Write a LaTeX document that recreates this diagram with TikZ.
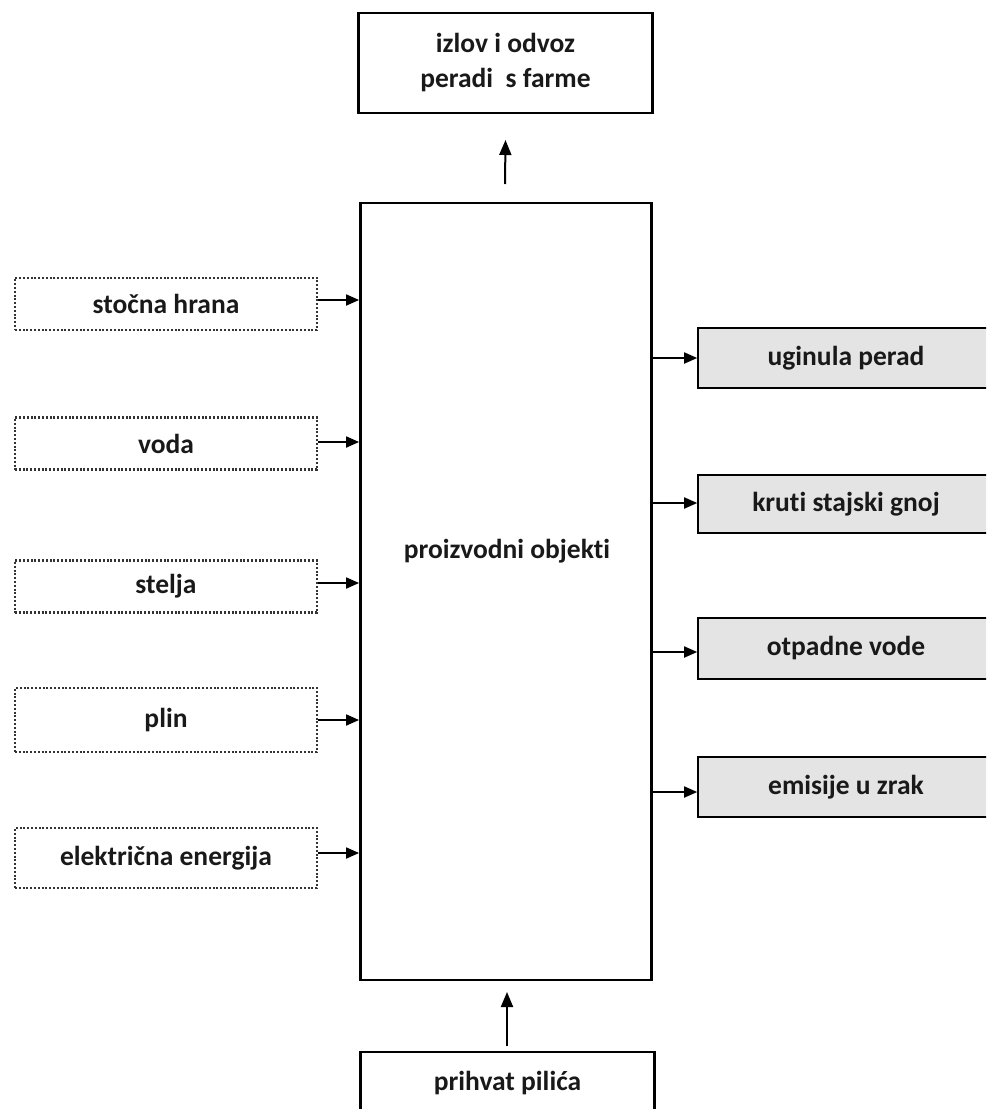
\documentclass[tikz,border=0pt]{standalone}
\usepackage{fontspec}
\setmainfont[Ligatures={NoCommon}]{Carlito}
\usetikzlibrary{arrows.meta}
\definecolor{boxgrey}{HTML}{E4E4E4}
\begin{document}
\begin{tikzpicture}[x=1pt,y=-1pt,
  txt/.style={font=\fontsize{27.5}{35}\selectfont\bfseries, text=black!90},
  solidbox/.style={draw, line width=2.8pt, inner sep=0pt, txt, align=center},
  inbox/.style={draw=black!80, line width=2.4pt, dash pattern=on 2pt off 1.8pt, inner sep=0pt,
     minimum width=302pt, minimum height=52pt, txt},
  outbox/.style={draw, line width=1.6pt, fill=boxgrey, inner sep=0pt,
     minimum width=296pt, minimum height=60pt, txt},
  arr/.style={line width=2pt, -{Triangle[length=15pt,width=12pt]}},
  arrsm/.style={line width=1.8pt, -{Triangle[length=13pt,width=11pt]}}]
\useasboundingbox (0,0) rectangle (986,1109);
\clip (0,0) rectangle (986,1109);
% top box
\node[solidbox, minimum width=294pt, minimum height=100pt] (izlov) at (505.5,63) {izlov i odvoz\\peradi\ \ s farme};
% main box
\node[solidbox, minimum width=291pt, minimum height=777pt] (main) at (506,591.5) {};
\node[txt] (maintxt) at (507,551) {proizvodni objekti};
% bottom box
\node[solidbox, minimum width=294pt, minimum height=62pt] (prihvat) at (507.5,1083) {prihvat pilića};
% up arrows
\coordinate (upA) at (505,184);
\draw[arr] (upA) -- (izlov.south |- 0,140);
\coordinate (upB) at (507,1046);
\draw[arr] (upB) -- (507,992);
% left inputs
\node[inbox] (hrana) at (166,304) {stočna hrana};
\node[inbox] (voda) at (166,443.5) {voda};
\node[inbox] (stelja) at (166,586.5) {stelja};
\node[inbox, minimum height=64pt] (plin) at (166,720) {plin};
\node[inbox, minimum height=60pt] (struja) at (166,858) {električna energija};
\foreach \n/\y in {hrana/300, voda/442, stelja/583, plin/720, struja/853}{
  \draw[arrsm] (\n.east |- 0,\y) -- (main.west |- 0,\y);
}
% right outputs
\node[outbox] (uginula) at (846,358) {uginula perad};
\node[outbox, minimum height=58pt] (gnoj) at (846,504) {kruti stajski gnoj};
\node[outbox, minimum height=61pt] (otpadne) at (846,648.5) {otpadne vode};
\node[outbox] (emisije) at (846,787) {emisije u zrak};
\foreach \n/\y in {uginula/358, gnoj/503, otpadne/652, emisije/792}{
  \draw[arrsm] (main.east |- 0,\y) -- (\n.west |- 0,\y);
}
\end{tikzpicture}
\end{document}
